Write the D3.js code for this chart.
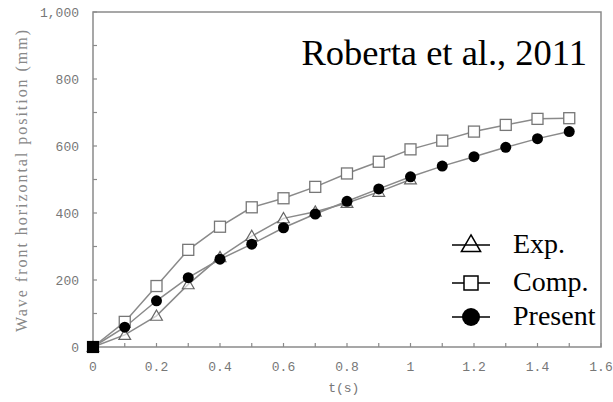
<!DOCTYPE html>
<html><head><meta charset="utf-8">
<script src="https://cdn.jsdelivr.net/npm/d3@7"></script>
<style>body{margin:0;background:#fff}</style>
</head><body>
<script>
const tExp = [0,0.1,0.2,0.3,0.4,0.5,0.6,0.7,0.8,0.9,1.0];
const expVals = [0,36,93,187,268,331,384,404,430,463,500];
const tSim = [0,0.1,0.2,0.3,0.4,0.5,0.6,0.7,0.8,0.9,1.0,1.1,1.2,1.3,1.4,1.5];
const compVals = [0,75,182,290,359,417,444,478,518,553,590,616,643,663,681,683];
const presentVals = [0,59,138,207,262,307,356,397,435,472,508,540,568,596,622,643];
const xTickLabels = ["0","0.2","0.4","0.6","0.8","1","1.2","1.4","1.6"];
const yTickLabels = ["0","200","400","600","800","1,000"];
const legendLabels = ["Exp.","Comp.","Present"];

const W=613,H=402;
const svg=d3.select("body").append("svg").attr("width",W).attr("height",H);
const x=d3.scaleLinear().domain([0,1.6]).range([93,601]);
const y=d3.scaleLinear().domain([0,1000]).range([347,12]);
const grey="#8a8a8a";

// frame
svg.append("rect").attr("x",x(0)).attr("y",y(1000)).attr("width",x(1.6)-x(0)).attr("height",y(0)-y(1000))
  .attr("fill","none").attr("stroke",grey).attr("stroke-width",1.5);

// x axis ticks (inward)
const xt=d3.range(0,17).map(i=>i/10);
svg.append("g").selectAll("line").data(xt).join("line")
  .attr("x1",d=>x(d)).attr("x2",d=>x(d)).attr("y1",y(0)).attr("y2",y(0)-4)
  .attr("stroke",grey).attr("stroke-width",1.2);
svg.append("g").selectAll("text").data(xTickLabels).join("text")
  .attr("x",(d,i)=>x(i*0.2)).attr("y",371).attr("text-anchor","middle")
  .attr("font-family","Liberation Mono, monospace").attr("font-size",13).attr("fill","#777").text(d=>d);
svg.append("text").attr("x",x(0.79)).attr("y",392).attr("text-anchor","middle")
  .attr("font-family","Liberation Mono, monospace").attr("font-size",13).attr("fill","#777").text("t(s)");

// y axis ticks
const yt=d3.range(0,11).map(i=>i*100);
svg.append("g").selectAll("line").data(yt).join("line")
  .attr("x1",x(0)).attr("x2",x(0)+4).attr("y1",d=>y(d)).attr("y2",d=>y(d))
  .attr("stroke",grey).attr("stroke-width",1.2);
svg.append("g").selectAll("text").data(yTickLabels).join("text")
  .attr("x",79).attr("y",(d,i)=>y(i*200)+5).attr("text-anchor","end")
  .attr("font-family","Liberation Mono, monospace").attr("font-size",13).attr("fill","#777").text(d=>d);
svg.append("text").attr("transform","translate(27,181) rotate(-90)").attr("text-anchor","middle")
  .attr("font-family","Liberation Serif, serif").attr("font-size",16).attr("fill","#888")
  .attr("textLength",302).attr("lengthAdjust","spacing")
  .text("Wave front horizontal position (mm)");

const line=d3.line().x(d=>x(d[0])).y(d=>y(d[1]));
const expData=tExp.map((t,i)=>[t,expVals[i]]);
const compData=tSim.map((t,i)=>[t,compVals[i]]);
const presData=tSim.map((t,i)=>[t,presentVals[i]]);

[expData,compData,presData].forEach(d=>{
  svg.append("path").datum(d).attr("d",line).attr("fill","none").attr("stroke",grey).attr("stroke-width",1.5);
});

// markers
const tri=d3.symbol().type(d3.symbolTriangle).size(60);
svg.append("g").selectAll("path").data(expData).join("path")
  .attr("transform",d=>`translate(${x(d[0])},${y(d[1])+1})`).attr("d",tri)
  .attr("fill","#fff").attr("fill-opacity",0.6).attr("stroke","#666").attr("stroke-width",1.2);
svg.append("g").selectAll("rect").data(compData).join("rect")
  .attr("x",d=>x(d[0])-5.5).attr("y",d=>y(d[1])-5.5).attr("width",11).attr("height",11)
  .attr("fill","#fff").attr("stroke","#777").attr("stroke-width",1.3);
svg.append("g").selectAll("circle").data(presData).join("circle")
  .attr("cx",d=>x(d[0])).attr("cy",d=>y(d[1])).attr("r",5.5).attr("fill","#000");
// origin black square
svg.append("rect").attr("x",x(0)-6).attr("y",y(0)-6).attr("width",12).attr("height",12).attr("fill","#000");

// annotation
svg.append("text").attr("x",587).attr("y",65).attr("text-anchor","end")
  .attr("font-family","Liberation Serif, serif").attr("font-size",36.5).attr("fill","#000")
  .text("Roberta et al., 2011");

// legend
const ly=[245,283,317];
const lg=svg.append("g");
legendLabels.forEach((lab,i)=>{
  lg.append("line").attr("x1",452).attr("x2",490).attr("y1",ly[i]).attr("y2",ly[i]).attr("stroke","#000").attr("stroke-width",1.5);
  lg.append("text").attr("x",513).attr("y",ly[i]+8).attr("font-family","Liberation Serif, serif")
    .attr("font-size",28).attr("fill","#000").text(lab);
});
lg.append("path").attr("transform",`translate(471,${ly[0]+1})`).attr("d",d3.symbol().type(d3.symbolTriangle).size(160))
  .attr("fill","none").attr("stroke","#000").attr("stroke-width",1.5);
lg.append("rect").attr("x",464).attr("y",ly[1]-7).attr("width",14).attr("height",14)
  .attr("fill","#fff").attr("stroke","#000").attr("stroke-width",1.5);
lg.append("circle").attr("cx",471).attr("cy",ly[2]).attr("r",9).attr("fill","#000");
</script>
</body></html>
